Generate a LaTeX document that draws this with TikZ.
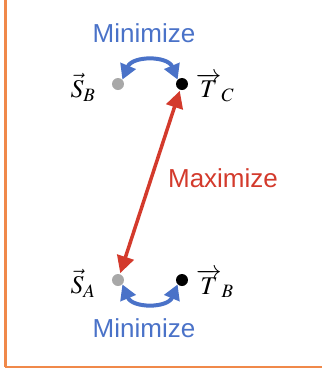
\documentclass[tikz,border=0pt]{standalone}
\usepackage{mathptmx}
\usepackage{fontspec}
\setsansfont{Liberation Sans}
\usetikzlibrary{arrows.meta,calc}
\definecolor{myblue}{HTML}{4A72C8}
\definecolor{myred}{HTML}{D33A2C}
\definecolor{myorange}{HTML}{F0894A}
\definecolor{mygray}{HTML}{A8A8A8}
\tikzset{
  dotnode/.style={circle,minimum size=12pt,inner sep=0pt},
  graydot/.style={dotnode,fill=mygray},
  blackdot/.style={dotnode,fill=black},
  mlabel/.style={inner sep=0pt,font=\fontsize{25.5}{30}\selectfont},
  wordlabel/.style={inner sep=0pt,font=\sffamily\fontsize{26}{30}\selectfont},
  bluearr/.style={draw=myblue,line width=4pt,{Triangle[length=15pt,width=16pt]}-{Triangle[length=15pt,width=16pt]}},
  redarr/.style={draw=myred,line width=3.5pt,{Triangle[length=17pt,width=17pt]}-{Triangle[length=17pt,width=17pt]}},
}
\begin{document}
\begin{tikzpicture}[x=1pt,y=-1pt]
\useasboundingbox (0,0) rectangle (322,368);
\coordinate (ltop) at (5.5,0);
\coordinate (lbot) at (5.5,366.7);
\coordinate (rbot) at (322,366.7);
\draw[myorange,line width=3pt] (ltop) -- (lbot);
\draw[myorange,line width=1.6pt] (lbot) -- (rbot);

\node[graydot] (sb) at (118,84) {};
\node[blackdot] (tc) at (182,84) {};
\node[graydot] (sa) at (118,280) {};
\node[blackdot] (tb) at (182,280) {};

\node[mlabel] (lsb) at (83,87.5) {$\vec{S}_B$};
\node[mlabel] (ltc) at (215,87.5) {$\overrightarrow{T}_C$};
\node[mlabel] (lsa) at (83,283.5) {$\vec{S}_A$};
\node[mlabel] (ltb) at (215,283.5) {$\overrightarrow{T}_B$};

\node[wordlabel,text=myblue] (mintop) at (144,33) {Minimize};
\node[wordlabel,text=myblue] (minbot) at (144,328) {Minimize};
\node[wordlabel,text=myred] (maxi) at (223,178.5) {Maximize};

\draw[redarr,shorten <=1pt,shorten >=1pt] (tc) -- (sa);
\draw[bluearr] (sb.north east) .. controls ($(sb.north east)+(10,-24)$) and ($(tc.north west)+(-10,-24)$) .. (tc.north west);
\draw[bluearr] (sa.south east) .. controls ($(sa.south east)+(10,24)$) and ($(tb.south west)+(-10,24)$) .. (tb.south west);
\end{tikzpicture}
\end{document}
